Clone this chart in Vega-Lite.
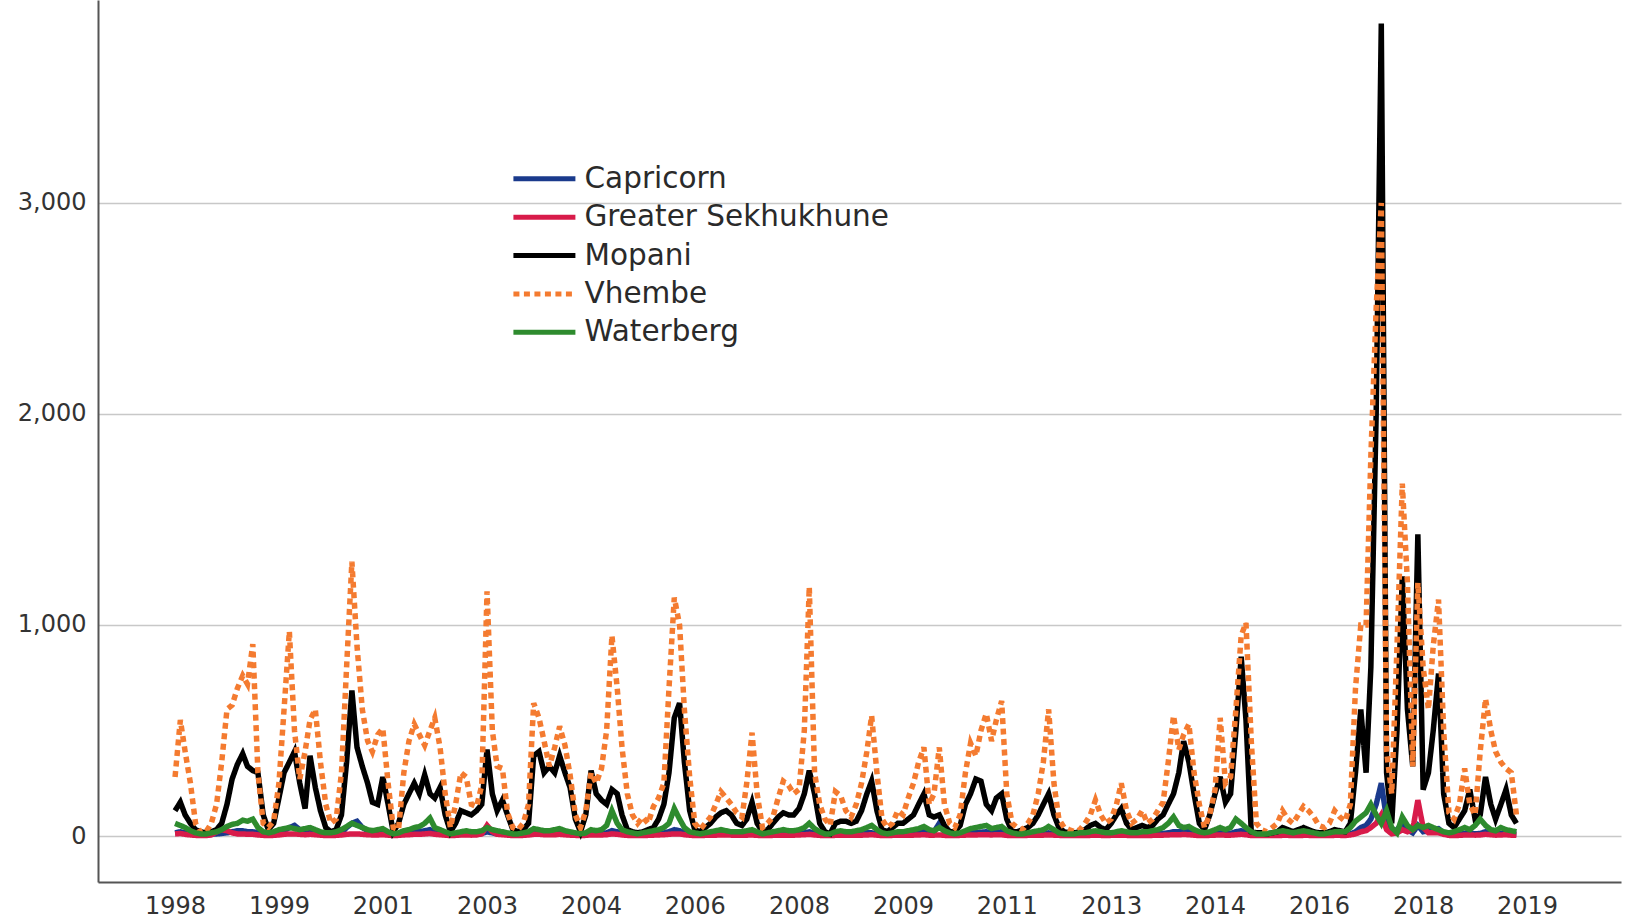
{
"$schema": "https://vega.github.io/schema/vega-lite/v6.json",
"width": 1523, "height": 882,
"autosize": {"type": "none"},
"padding": {"left": 98, "top": 0, "right": 8, "bottom": 39},
"background": "white",
"config": {"view": {"stroke": null}, "font": "DejaVu Sans",
 "legend": {"symbolType": "M-1,0L5,0", "symbolSize": 427, "symbolStrokeWidth": 5, "labelFontSize": 29.5, "labelFont": "DejaVu Sans", "labelColor": "#2a2a2a", "labelLimit": 500, "rowPadding": 7.4, "labelOffset": 46, "padding": 0, "title": null}},
"datasets": {"names": [{"k": "C", "district": "Capricorn"}, {"k": "G", "district": "Greater Sekhukhune"}, {"k": "M", "district": "Mopani"}, {"k": "V", "district": "Vhembe"}, {"k": "W", "district": "Waterberg"}]},
"data": {"values": [
{"d":"1998-01","C":15,"G":10,"M":120,"V":280,"W":60},
{"d":"1998-02","C":20,"G":12,"M":160,"V":550,"W":50},
{"d":"1998-03","C":15,"G":8,"M":100,"V":400,"W":40},
{"d":"1998-04","C":10,"G":5,"M":60,"V":250,"W":25},
{"d":"1998-05","C":5,"G":3,"M":30,"V":60,"W":15},
{"d":"1998-06","C":5,"G":2,"M":20,"V":15,"W":10},
{"d":"1998-07","C":5,"G":2,"M":15,"V":20,"W":10},
{"d":"1998-08","C":8,"G":5,"M":20,"V":60,"W":15},
{"d":"1998-09","C":10,"G":20,"M":30,"V":150,"W":20},
{"d":"1998-10","C":12,"G":30,"M":60,"V":350,"W":30},
{"d":"1998-11","C":15,"G":25,"M":150,"V":600,"W":45},
{"d":"1998-12","C":20,"G":15,"M":270,"V":620,"W":55},
{"d":"1999-01","C":25,"G":10,"M":340,"V":700,"W":60},
{"d":"1999-02","C":25,"G":10,"M":390,"V":760,"W":75},
{"d":"1999-03","C":20,"G":8,"M":330,"V":720,"W":70},
{"d":"1999-04","C":20,"G":8,"M":310,"V":910,"W":80},
{"d":"1999-05","C":15,"G":5,"M":300,"V":300,"W":40},
{"d":"1999-06","C":10,"G":3,"M":100,"V":60,"W":20},
{"d":"1999-07","C":5,"G":2,"M":30,"V":40,"W":15},
{"d":"1999-08","C":8,"G":3,"M":60,"V":70,"W":20},
{"d":"1999-09","C":15,"G":5,"M":180,"V":250,"W":30},
{"d":"1999-10","C":25,"G":8,"M":300,"V":600,"W":35},
{"d":"1999-11","C":40,"G":10,"M":350,"V":970,"W":40},
{"d":"1999-12","C":50,"G":10,"M":400,"V":500,"W":35},
{"d":"2000-01","C":30,"G":8,"M":250,"V":270,"W":30},
{"d":"2000-02","C":20,"G":6,"M":130,"V":400,"W":35},
{"d":"2000-03","C":25,"G":8,"M":380,"V":550,"W":40},
{"d":"2000-04","C":20,"G":6,"M":230,"V":600,"W":30},
{"d":"2000-05","C":10,"G":4,"M":120,"V":350,"W":20},
{"d":"2000-06","C":5,"G":2,"M":40,"V":150,"W":15},
{"d":"2000-07","C":5,"G":2,"M":20,"V":60,"W":15},
{"d":"2000-08","C":8,"G":3,"M":30,"V":80,"W":20},
{"d":"2000-09","C":15,"G":5,"M":100,"V":300,"W":30},
{"d":"2000-10","C":40,"G":8,"M":350,"V":800,"W":45},
{"d":"2000-11","C":60,"G":10,"M":690,"V":1300,"W":60},
{"d":"2000-12","C":70,"G":10,"M":420,"V":900,"W":50},
{"d":"2001-01","C":40,"G":8,"M":330,"V":600,"W":40},
{"d":"2001-02","C":25,"G":6,"M":250,"V":450,"W":30},
{"d":"2001-03","C":15,"G":5,"M":160,"V":400,"W":25},
{"d":"2001-04","C":15,"G":5,"M":150,"V":480,"W":30},
{"d":"2001-05","C":20,"G":6,"M":280,"V":510,"W":35},
{"d":"2001-06","C":10,"G":4,"M":150,"V":250,"W":20},
{"d":"2001-07","C":5,"G":2,"M":20,"V":40,"W":10},
{"d":"2001-08","C":5,"G":3,"M":60,"V":30,"W":15},
{"d":"2001-09","C":10,"G":5,"M":150,"V":300,"W":25},
{"d":"2001-10","C":15,"G":6,"M":200,"V":450,"W":30},
{"d":"2001-11","C":20,"G":8,"M":250,"V":530,"W":40},
{"d":"2001-12","C":20,"G":8,"M":200,"V":480,"W":45},
{"d":"2002-01","C":25,"G":10,"M":290,"V":430,"W":60},
{"d":"2002-02","C":30,"G":12,"M":200,"V":500,"W":85},
{"d":"2002-03","C":20,"G":8,"M":180,"V":560,"W":40},
{"d":"2002-04","C":15,"G":6,"M":230,"V":420,"W":30},
{"d":"2002-05","C":10,"G":4,"M":100,"V":200,"W":20},
{"d":"2002-06","C":5,"G":2,"M":20,"V":40,"W":10},
{"d":"2002-07","C":5,"G":3,"M":60,"V":150,"W":15},
{"d":"2002-08","C":8,"G":5,"M":120,"V":300,"W":20},
{"d":"2002-09","C":10,"G":5,"M":110,"V":280,"W":25},
{"d":"2002-10","C":8,"G":4,"M":100,"V":150,"W":20},
{"d":"2002-11","C":10,"G":5,"M":120,"V":140,"W":20},
{"d":"2002-12","C":12,"G":10,"M":150,"V":240,"W":25},
{"d":"2003-01","C":20,"G":50,"M":410,"V":1160,"W":40},
{"d":"2003-02","C":15,"G":20,"M":200,"V":500,"W":30},
{"d":"2003-03","C":10,"G":8,"M":120,"V":330,"W":25},
{"d":"2003-04","C":12,"G":6,"M":170,"V":320,"W":20},
{"d":"2003-05","C":8,"G":4,"M":100,"V":110,"W":15},
{"d":"2003-06","C":5,"G":2,"M":30,"V":40,"W":10},
{"d":"2003-07","C":5,"G":2,"M":20,"V":30,"W":10},
{"d":"2003-08","C":6,"G":3,"M":30,"V":60,"W":15},
{"d":"2003-09","C":10,"G":5,"M":60,"V":150,"W":20},
{"d":"2003-10","C":20,"G":8,"M":380,"V":630,"W":35},
{"d":"2003-11","C":18,"G":8,"M":400,"V":560,"W":30},
{"d":"2003-12","C":15,"G":6,"M":300,"V":450,"W":25},
{"d":"2004-01","C":15,"G":6,"M":330,"V":330,"W":25},
{"d":"2004-02","C":15,"G":6,"M":300,"V":420,"W":30},
{"d":"2004-03","C":20,"G":8,"M":380,"V":520,"W":35},
{"d":"2004-04","C":15,"G":6,"M":300,"V":430,"W":25},
{"d":"2004-05","C":10,"G":4,"M":230,"V":290,"W":20},
{"d":"2004-06","C":6,"G":3,"M":80,"V":100,"W":15},
{"d":"2004-07","C":5,"G":2,"M":20,"V":40,"W":10},
{"d":"2004-08","C":8,"G":3,"M":100,"V":120,"W":15},
{"d":"2004-09","C":15,"G":5,"M":310,"V":300,"W":30},
{"d":"2004-10","C":12,"G":5,"M":200,"V":250,"W":25},
{"d":"2004-11","C":12,"G":5,"M":170,"V":320,"W":30},
{"d":"2004-12","C":15,"G":6,"M":150,"V":500,"W":50},
{"d":"2005-01","C":25,"G":10,"M":220,"V":950,"W":120},
{"d":"2005-02","C":20,"G":8,"M":200,"V":700,"W":60},
{"d":"2005-03","C":12,"G":5,"M":100,"V":420,"W":30},
{"d":"2005-04","C":8,"G":3,"M":30,"V":200,"W":20},
{"d":"2005-05","C":5,"G":2,"M":20,"V":100,"W":15},
{"d":"2005-06","C":5,"G":2,"M":15,"V":60,"W":10},
{"d":"2005-07","C":5,"G":2,"M":20,"V":90,"W":15},
{"d":"2005-08","C":6,"G":3,"M":30,"V":60,"W":20},
{"d":"2005-09","C":8,"G":4,"M":40,"V":140,"W":25},
{"d":"2005-10","C":10,"G":5,"M":80,"V":180,"W":30},
{"d":"2005-11","C":15,"G":6,"M":150,"V":250,"W":40},
{"d":"2005-12","C":20,"G":8,"M":300,"V":700,"W":60},
{"d":"2006-01","C":30,"G":10,"M":560,"V":1130,"W":130},
{"d":"2006-02","C":25,"G":10,"M":630,"V":1000,"W":80},
{"d":"2006-03","C":15,"G":6,"M":350,"V":600,"W":40},
{"d":"2006-04","C":10,"G":4,"M":120,"V":280,"W":20},
{"d":"2006-05","C":5,"G":2,"M":30,"V":60,"W":15},
{"d":"2006-06","C":5,"G":2,"M":20,"V":30,"W":10},
{"d":"2006-07","C":6,"G":3,"M":40,"V":60,"W":15},
{"d":"2006-08","C":8,"G":3,"M":60,"V":90,"W":20},
{"d":"2006-09","C":10,"G":4,"M":90,"V":150,"W":25},
{"d":"2006-10","C":12,"G":5,"M":110,"V":210,"W":30},
{"d":"2006-11","C":12,"G":5,"M":120,"V":180,"W":25},
{"d":"2006-12","C":10,"G":4,"M":100,"V":150,"W":20},
{"d":"2007-01","C":8,"G":3,"M":60,"V":110,"W":20},
{"d":"2007-02","C":8,"G":3,"M":50,"V":90,"W":20},
{"d":"2007-03","C":10,"G":4,"M":80,"V":250,"W":25},
{"d":"2007-04","C":15,"G":5,"M":160,"V":490,"W":30},
{"d":"2007-05","C":8,"G":3,"M":60,"V":200,"W":20},
{"d":"2007-06","C":5,"G":2,"M":20,"V":40,"W":10},
{"d":"2007-07","C":5,"G":2,"M":30,"V":60,"W":15},
{"d":"2007-08","C":6,"G":3,"M":60,"V":90,"W":20},
{"d":"2007-09","C":8,"G":4,"M":90,"V":180,"W":25},
{"d":"2007-10","C":10,"G":4,"M":110,"V":260,"W":30},
{"d":"2007-11","C":10,"G":4,"M":100,"V":240,"W":25},
{"d":"2007-12","C":10,"G":4,"M":100,"V":200,"W":25},
{"d":"2008-01","C":12,"G":5,"M":130,"V":220,"W":30},
{"d":"2008-02","C":15,"G":6,"M":200,"V":500,"W":40},
{"d":"2008-03","C":20,"G":8,"M":310,"V":1180,"W":60},
{"d":"2008-04","C":12,"G":5,"M":200,"V":300,"W":35},
{"d":"2008-05","C":6,"G":3,"M":60,"V":150,"W":20},
{"d":"2008-06","C":5,"G":2,"M":20,"V":80,"W":10},
{"d":"2008-07","C":5,"G":2,"M":10,"V":50,"W":10},
{"d":"2008-08","C":8,"G":3,"M":60,"V":210,"W":20},
{"d":"2008-09","C":8,"G":3,"M":70,"V":190,"W":25},
{"d":"2008-10","C":8,"G":3,"M":70,"V":120,"W":20},
{"d":"2008-11","C":6,"G":3,"M":60,"V":90,"W":20},
{"d":"2008-12","C":8,"G":3,"M":70,"V":150,"W":25},
{"d":"2009-01","C":10,"G":4,"M":120,"V":250,"W":30},
{"d":"2009-02","C":15,"G":5,"M":200,"V":400,"W":40},
{"d":"2009-03","C":15,"G":6,"M":260,"V":570,"W":50},
{"d":"2009-04","C":10,"G":4,"M":120,"V":300,"W":30},
{"d":"2009-05","C":5,"G":2,"M":30,"V":80,"W":15},
{"d":"2009-06","C":5,"G":2,"M":20,"V":40,"W":10},
{"d":"2009-07","C":6,"G":3,"M":40,"V":60,"W":15},
{"d":"2009-08","C":8,"G":3,"M":60,"V":120,"W":20},
{"d":"2009-09","C":8,"G":3,"M":60,"V":100,"W":20},
{"d":"2009-10","C":10,"G":4,"M":80,"V":180,"W":25},
{"d":"2009-11","C":12,"G":4,"M":100,"V":250,"W":30},
{"d":"2009-12","C":15,"G":5,"M":150,"V":350,"W":35},
{"d":"2010-01","C":25,"G":6,"M":200,"V":420,"W":45},
{"d":"2010-02","C":15,"G":4,"M":100,"V":150,"W":30},
{"d":"2010-03","C":20,"G":4,"M":90,"V":200,"W":25},
{"d":"2010-04","C":60,"G":5,"M":100,"V":420,"W":40},
{"d":"2010-05","C":20,"G":3,"M":50,"V":150,"W":25},
{"d":"2010-06","C":8,"G":2,"M":20,"V":60,"W":15},
{"d":"2010-07","C":5,"G":2,"M":20,"V":40,"W":10},
{"d":"2010-08","C":8,"G":3,"M":50,"V":100,"W":15},
{"d":"2010-09","C":12,"G":4,"M":150,"V":300,"W":25},
{"d":"2010-10","C":15,"G":5,"M":200,"V":440,"W":35},
{"d":"2010-11","C":15,"G":5,"M":270,"V":380,"W":40},
{"d":"2010-12","C":18,"G":6,"M":260,"V":500,"W":45},
{"d":"2011-01","C":20,"G":6,"M":150,"V":580,"W":50},
{"d":"2011-02","C":15,"G":5,"M":120,"V":450,"W":35},
{"d":"2011-03","C":18,"G":6,"M":180,"V":550,"W":40},
{"d":"2011-04","C":20,"G":6,"M":200,"V":640,"W":45},
{"d":"2011-05","C":10,"G":3,"M":80,"V":200,"W":25},
{"d":"2011-06","C":5,"G":2,"M":20,"V":60,"W":15},
{"d":"2011-07","C":5,"G":2,"M":20,"V":40,"W":10},
{"d":"2011-08","C":5,"G":2,"M":30,"V":30,"W":10},
{"d":"2011-09","C":6,"G":3,"M":40,"V":60,"W":15},
{"d":"2011-10","C":8,"G":3,"M":60,"V":100,"W":20},
{"d":"2011-11","C":10,"G":4,"M":100,"V":200,"W":25},
{"d":"2011-12","C":12,"G":4,"M":150,"V":350,"W":30},
{"d":"2012-01","C":15,"G":5,"M":200,"V":600,"W":45},
{"d":"2012-02","C":10,"G":4,"M":100,"V":250,"W":30},
{"d":"2012-03","C":6,"G":3,"M":40,"V":80,"W":15},
{"d":"2012-04","C":5,"G":2,"M":20,"V":40,"W":10},
{"d":"2012-05","C":5,"G":2,"M":15,"V":30,"W":10},
{"d":"2012-06","C":5,"G":2,"M":15,"V":20,"W":10},
{"d":"2012-07","C":5,"G":2,"M":20,"V":30,"W":15},
{"d":"2012-08","C":6,"G":2,"M":30,"V":60,"W":15},
{"d":"2012-09","C":8,"G":3,"M":50,"V":100,"W":20},
{"d":"2012-10","C":10,"G":3,"M":60,"V":170,"W":25},
{"d":"2012-11","C":8,"G":3,"M":40,"V":100,"W":20},
{"d":"2012-12","C":6,"G":2,"M":30,"V":60,"W":15},
{"d":"2013-01","C":8,"G":3,"M":60,"V":80,"W":15},
{"d":"2013-02","C":10,"G":3,"M":100,"V":150,"W":20},
{"d":"2013-03","C":12,"G":4,"M":130,"V":250,"W":25},
{"d":"2013-04","C":8,"G":3,"M":60,"V":120,"W":20},
{"d":"2013-05","C":5,"G":2,"M":30,"V":60,"W":15},
{"d":"2013-06","C":5,"G":2,"M":40,"V":80,"W":15},
{"d":"2013-07","C":6,"G":2,"M":50,"V":120,"W":20},
{"d":"2013-08","C":6,"G":2,"M":40,"V":60,"W":20},
{"d":"2013-09","C":8,"G":3,"M":50,"V":80,"W":25},
{"d":"2013-10","C":10,"G":3,"M":80,"V":120,"W":30},
{"d":"2013-11","C":12,"G":4,"M":100,"V":160,"W":40},
{"d":"2013-12","C":15,"G":5,"M":150,"V":350,"W":60},
{"d":"2014-01","C":20,"G":6,"M":200,"V":570,"W":90},
{"d":"2014-02","C":20,"G":6,"M":300,"V":410,"W":50},
{"d":"2014-03","C":25,"G":7,"M":450,"V":480,"W":40},
{"d":"2014-04","C":20,"G":6,"M":350,"V":530,"W":45},
{"d":"2014-05","C":12,"G":4,"M":200,"V":300,"W":30},
{"d":"2014-06","C":6,"G":2,"M":60,"V":150,"W":20},
{"d":"2014-07","C":5,"G":2,"M":30,"V":40,"W":15},
{"d":"2014-08","C":8,"G":3,"M":100,"V":100,"W":20},
{"d":"2014-09","C":12,"G":4,"M":200,"V":220,"W":30},
{"d":"2014-10","C":15,"G":5,"M":280,"V":560,"W":40},
{"d":"2014-11","C":10,"G":4,"M":160,"V":250,"W":30},
{"d":"2014-12","C":12,"G":4,"M":200,"V":280,"W":40},
{"d":"2015-01","C":20,"G":6,"M":500,"V":600,"W":80},
{"d":"2015-02","C":25,"G":8,"M":850,"V":950,"W":60},
{"d":"2015-03","C":20,"G":6,"M":550,"V":1010,"W":40},
{"d":"2015-04","C":5,"G":2,"M":20,"V":450,"W":20},
{"d":"2015-05","C":5,"G":2,"M":15,"V":60,"W":10},
{"d":"2015-06","C":5,"G":2,"M":15,"V":30,"W":10},
{"d":"2015-07","C":4,"G":2,"M":10,"V":20,"W":10},
{"d":"2015-08","C":5,"G":2,"M":15,"V":40,"W":15},
{"d":"2015-09","C":6,"G":2,"M":20,"V":60,"W":20},
{"d":"2015-10","C":8,"G":3,"M":40,"V":120,"W":25},
{"d":"2015-11","C":6,"G":3,"M":30,"V":80,"W":20},
{"d":"2015-12","C":5,"G":2,"M":20,"V":60,"W":15},
{"d":"2016-01","C":6,"G":2,"M":30,"V":100,"W":20},
{"d":"2016-02","C":8,"G":3,"M":40,"V":140,"W":25},
{"d":"2016-03","C":6,"G":3,"M":30,"V":120,"W":20},
{"d":"2016-04","C":5,"G":2,"M":20,"V":90,"W":15},
{"d":"2016-05","C":5,"G":2,"M":15,"V":50,"W":10},
{"d":"2016-06","C":5,"G":2,"M":15,"V":40,"W":10},
{"d":"2016-07","C":5,"G":2,"M":20,"V":60,"W":15},
{"d":"2016-08","C":6,"G":3,"M":30,"V":120,"W":20},
{"d":"2016-09","C":6,"G":3,"M":25,"V":90,"W":20},
{"d":"2016-10","C":5,"G":2,"M":20,"V":70,"W":20},
{"d":"2016-11","C":10,"G":5,"M":60,"V":150,"W":40},
{"d":"2016-12","C":20,"G":10,"M":300,"V":700,"W":70},
{"d":"2017-01","C":40,"G":20,"M":600,"V":1000,"W":90},
{"d":"2017-02","C":50,"G":25,"M":300,"V":1000,"W":110},
{"d":"2017-03","C":80,"G":40,"M":800,"V":1800,"W":150},
{"d":"2017-04","C":150,"G":60,"M":2000,"V":2500,"W":100},
{"d":"2017-05","C":250,"G":100,"M":3850,"V":3000,"W":60},
{"d":"2017-06","C":80,"G":30,"M":300,"V":400,"W":120},
{"d":"2017-07","C":20,"G":10,"M":60,"V":200,"W":40},
{"d":"2017-08","C":30,"G":15,"M":500,"V":900,"W":15},
{"d":"2017-09","C":60,"G":30,"M":1230,"V":1670,"W":90},
{"d":"2017-10","C":30,"G":20,"M":600,"V":1200,"W":50},
{"d":"2017-11","C":15,"G":30,"M":330,"V":330,"W":30},
{"d":"2017-12","C":50,"G":170,"M":1430,"V":1200,"W":50},
{"d":"2018-01","C":20,"G":40,"M":220,"V":800,"W":40},
{"d":"2018-02","C":25,"G":15,"M":300,"V":600,"W":50},
{"d":"2018-03","C":30,"G":15,"M":500,"V":900,"W":40},
{"d":"2018-04","C":35,"G":15,"M":770,"V":1120,"W":30},
{"d":"2018-05","C":15,"G":8,"M":200,"V":500,"W":20},
{"d":"2018-06","C":6,"G":3,"M":60,"V":110,"W":15},
{"d":"2018-07","C":5,"G":2,"M":40,"V":80,"W":20},
{"d":"2018-08","C":8,"G":3,"M":80,"V":150,"W":30},
{"d":"2018-09","C":12,"G":5,"M":120,"V":320,"W":40},
{"d":"2018-10","C":15,"G":5,"M":220,"V":150,"W":30},
{"d":"2018-11","C":10,"G":4,"M":80,"V":100,"W":50},
{"d":"2018-12","C":12,"G":5,"M":100,"V":400,"W":80},
{"d":"2019-01","C":20,"G":8,"M":280,"V":650,"W":50},
{"d":"2019-02","C":15,"G":6,"M":150,"V":500,"W":30},
{"d":"2019-03","C":10,"G":4,"M":80,"V":400,"W":25},
{"d":"2019-04","C":12,"G":5,"M":150,"V":350,"W":40},
{"d":"2019-05","C":15,"G":6,"M":220,"V":320,"W":30},
{"d":"2019-06","C":10,"G":4,"M":100,"V":300,"W":25},
{"d":"2019-07","C":8,"G":3,"M":60,"V":100,"W":20}
]},
"transform": [
 {"fold": ["C", "G", "M", "V", "W"], "as": ["k", "cases"]},
 {"lookup": "k", "from": {"data": {"name": "names"}, "key": "k", "fields": ["district"]}}
],
"mark": {"type": "line", "strokeWidth": 5.5, "clip": true},
"encoding": {
 "x": {"field": "d", "type": "temporal",
  "scale": {"type": "utc", "domain": [{"year": 1996, "month": 10, "date": 7, "utc": true}, {"year": 2021, "month": 3, "date": 4, "utc": true}]},
  "axis": {"title": null, "values": [{"year":1998,"month":1,"utc":true},{"year":1999,"month":9,"utc":true},{"year":2001,"month":5,"utc":true},{"year":2003,"month":1,"utc":true},{"year":2004,"month":9,"utc":true},{"year":2006,"month":5,"utc":true},{"year":2008,"month":1,"utc":true},{"year":2009,"month":9,"utc":true},{"year":2011,"month":5,"utc":true},{"year":2013,"month":1,"utc":true},{"year":2014,"month":9,"utc":true},{"year":2016,"month":5,"utc":true},{"year":2018,"month":1,"utc":true},{"year":2019,"month":9,"utc":true}],
   "labelExpr": "utcFormat(datum.value, '%Y')", "labelFontSize": 24, "labelColor": "#333", "labelFont": "DejaVu Sans", "ticks": false, "grid": false, "domainColor": "#555", "domainWidth": 2, "labelPadding": 12, "labelOverlap": false, "labelFlush": false}},
 "y": {"field": "cases", "type": "quantitative",
  "scale": {"domain": [-218, 3962], "nice": false, "zero": false},
  "axis": {"title": null, "values": [0, 1000, 2000, 3000], "labelExpr": "format(datum.value, ',.0f')", "labelFontSize": 24, "labelColor": "#333", "labelFont": "DejaVu Sans", "ticks": false, "grid": true, "gridColor": "#c8c8c8", "gridWidth": 1.5, "domainColor": "#555", "domainWidth": 2, "labelPadding": 12}},
 "color": {"field": "district", "type": "nominal",
  "scale": {"domain": ["Capricorn", "Greater Sekhukhune", "Mopani", "Vhembe", "Waterberg"], "range": ["#1a3a8c", "#d81b4a", "#000000", "#f47b30", "#2e8b2e"]},
  "legend": {"orient": "none", "legendX": 411, "legendY": 164}},
 "strokeDash": {"field": "district", "type": "nominal",
  "scale": {"domain": ["Capricorn", "Greater Sekhukhune", "Mopani", "Vhembe", "Waterberg"], "range": [[1, 0], [1, 0], [1, 0], [6, 4.5], [1, 0]]},
  "legend": {"orient": "none", "legendX": 411, "legendY": 164}}
}
}
